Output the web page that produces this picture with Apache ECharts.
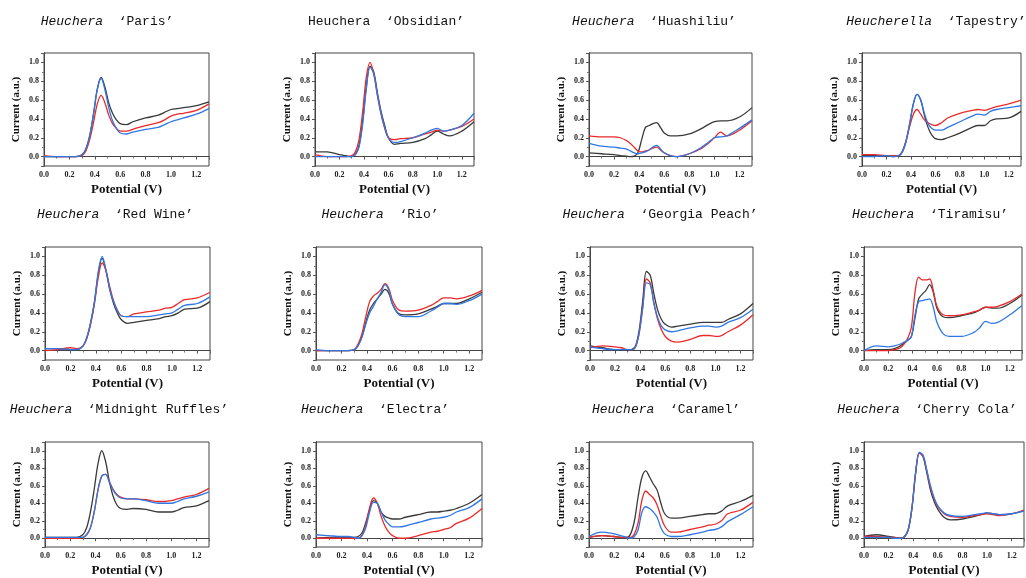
<!DOCTYPE html>
<html>
<head>
<meta charset="utf-8">
<script src="https://cdn.jsdelivr.net/npm/echarts@6/dist/echarts.min.js"></script>
<style>
  html, body { margin: 0; padding: 0; background: #fff; }
  #chart { width: 1026px; height: 578px; }
</style>
</head>
<body>
<div id="chart"></div>
<script>
// potential axis (V), shared by every curve
const potential = [0, 0.1, 0.2, 0.25, 0.3, 0.33, 0.36, 0.39, 0.42, 0.45, 0.48, 0.51, 0.54, 0.57, 0.6, 0.65, 0.7, 0.8, 0.9, 0.95, 1.0, 1.05, 1.1, 1.2, 1.3];

// normalised current, black / red / blue curves of each cultivar
const parisK = [0,0,0,0,0.02,0.08,0.22,0.45,0.72,0.84,0.74,0.57,0.46,0.39,0.35,0.34,0.37,0.41,0.44,0.47,0.50,0.51,0.52,0.54,0.58];
const parisR = [0.01,0,0,0,0.01,0.06,0.18,0.36,0.56,0.65,0.57,0.44,0.35,0.30,0.27,0.27,0.29,0.33,0.36,0.39,0.43,0.45,0.46,0.49,0.56];
const parisB = [0,0,0,0,0.02,0.08,0.22,0.45,0.71,0.83,0.71,0.52,0.38,0.30,0.25,0.24,0.26,0.29,0.31,0.34,0.37,0.39,0.41,0.45,0.51];

const obsidianK = [0.05,0.05,0.02,0.01,0,0.02,0.12,0.38,0.75,0.96,0.90,0.68,0.48,0.33,0.20,0.13,0.14,0.15,0.19,0.23,0.27,0.24,0.22,0.27,0.37];
const obsidianR = [0.02,0,0,0,0.01,0.05,0.18,0.48,0.85,1.0,0.88,0.65,0.45,0.30,0.20,0.18,0.19,0.20,0.24,0.26,0.28,0.27,0.28,0.32,0.40];
const obsidianB = [0,0,0,0,0,0.02,0.10,0.35,0.72,0.95,0.88,0.66,0.46,0.31,0.20,0.15,0.16,0.20,0.25,0.28,0.30,0.27,0.28,0.33,0.46];

const huashiliuK = [0.04,0.03,0.02,0.01,0.005,0,0.005,0.04,0.18,0.31,0.33,0.35,0.36,0.31,0.25,0.22,0.22,0.24,0.30,0.34,0.37,0.38,0.38,0.42,0.52];
const huashiliuR = [0.22,0.21,0.21,0.20,0.17,0.14,0.10,0.06,0.05,0.06,0.07,0.09,0.10,0.07,0.04,0.01,0,0.03,0.09,0.14,0.20,0.26,0.22,0.28,0.38];
const huashiliuB = [0.14,0.11,0.10,0.09,0.08,0.06,0.04,0.03,0.04,0.05,0.07,0.10,0.12,0.08,0.04,0.01,0,0.03,0.10,0.15,0.20,0.21,0.22,0.30,0.39];

const tapestryK = [0.01,0.01,0.01,0,0.01,0.05,0.16,0.35,0.56,0.66,0.60,0.44,0.31,0.23,0.19,0.18,0.20,0.25,0.31,0.33,0.33,0.38,0.40,0.41,0.48];
const tapestryR = [0.02,0.02,0.01,0.01,0.01,0.06,0.17,0.32,0.45,0.50,0.45,0.39,0.36,0.34,0.33,0.36,0.41,0.46,0.49,0.50,0.49,0.51,0.53,0.56,0.60];
const tapestryB = [0,0,0.01,0,0.01,0.05,0.16,0.35,0.56,0.66,0.60,0.46,0.35,0.30,0.28,0.28,0.31,0.37,0.43,0.45,0.44,0.48,0.50,0.52,0.54];

const redWineK = [0.02,0.02,0.01,0.01,0.05,0.14,0.30,0.52,0.82,0.98,0.85,0.65,0.50,0.40,0.33,0.29,0.30,0.32,0.34,0.36,0.37,0.40,0.44,0.45,0.52];
const redWineR = [0,0.01,0.03,0.02,0.05,0.13,0.28,0.50,0.78,0.93,0.85,0.68,0.53,0.43,0.37,0.36,0.39,0.41,0.43,0.45,0.46,0.50,0.54,0.56,0.62];
const redWineB = [0.02,0.02,0.01,0.01,0.05,0.14,0.30,0.52,0.84,1.0,0.86,0.65,0.52,0.42,0.37,0.36,0.36,0.36,0.38,0.39,0.40,0.44,0.48,0.50,0.57];

const rioK = [0,0,0,0,0.01,0.06,0.15,0.30,0.43,0.50,0.55,0.60,0.65,0.61,0.49,0.39,0.38,0.39,0.44,0.47,0.50,0.50,0.50,0.55,0.62];
const rioR = [0,0,0,0,0.01,0.07,0.18,0.36,0.52,0.58,0.61,0.65,0.71,0.66,0.53,0.43,0.42,0.43,0.48,0.52,0.56,0.56,0.55,0.58,0.64];
const rioB = [0.01,0,0,0,0.01,0.05,0.14,0.28,0.40,0.47,0.55,0.62,0.70,0.64,0.49,0.38,0.36,0.36,0.42,0.46,0.50,0.50,0.49,0.53,0.60];

const peachK = [0.05,0.03,0.01,0.01,0,0.01,0.04,0.20,0.52,0.84,0.80,0.60,0.43,0.33,0.28,0.25,0.26,0.28,0.30,0.30,0.30,0.30,0.33,0.39,0.50];
const peachR = [0.03,0.05,0.04,0.03,0.01,0.01,0.03,0.17,0.45,0.76,0.72,0.50,0.33,0.22,0.15,0.10,0.09,0.12,0.16,0.16,0.15,0.16,0.20,0.27,0.38];
const peachB = [0.04,0.02,0.01,0.01,0.01,0.01,0.03,0.17,0.45,0.72,0.70,0.50,0.35,0.26,0.22,0.20,0.21,0.24,0.26,0.26,0.25,0.26,0.30,0.35,0.44];

const tiramisuK = [0,0.01,0.01,0.02,0.05,0.08,0.11,0.15,0.35,0.55,0.60,0.64,0.70,0.62,0.45,0.36,0.35,0.37,0.40,0.43,0.46,0.45,0.45,0.50,0.59];
const tiramisuR = [0,0,0,0.01,0.03,0.07,0.13,0.25,0.62,0.78,0.75,0.75,0.76,0.64,0.47,0.38,0.37,0.38,0.41,0.43,0.46,0.46,0.47,0.52,0.60];
const tiramisuB = [0,0.05,0.04,0.05,0.07,0.09,0.11,0.15,0.38,0.52,0.53,0.54,0.55,0.46,0.30,0.18,0.15,0.15,0.19,0.24,0.31,0.29,0.30,0.38,0.48];

const ruffleK = [0.01,0.01,0.01,0.01,0.04,0.12,0.30,0.56,0.85,1.0,0.88,0.65,0.48,0.38,0.34,0.33,0.34,0.33,0.30,0.30,0.30,0.32,0.35,0.37,0.43];
const ruffleR = [0,0,0,0,0.01,0.04,0.12,0.30,0.55,0.71,0.73,0.65,0.56,0.50,0.47,0.45,0.45,0.44,0.42,0.42,0.43,0.45,0.47,0.50,0.57];
const ruffleB = [0.01,0.01,0.01,0.01,0.01,0.04,0.12,0.30,0.55,0.71,0.73,0.64,0.55,0.49,0.46,0.45,0.45,0.43,0.40,0.40,0.40,0.42,0.45,0.48,0.53];

const electraK = [0,0.01,0.01,0.01,0.01,0.02,0.06,0.18,0.33,0.43,0.40,0.30,0.25,0.23,0.22,0.22,0.24,0.27,0.30,0.30,0.31,0.32,0.34,0.40,0.50];
const electraR = [0,0,0,0,0,0,0.03,0.15,0.35,0.46,0.40,0.25,0.14,0.07,0.03,0,0,0.03,0.07,0.08,0.10,0.12,0.17,0.23,0.34];
const electraB = [0.04,0.03,0.02,0.02,0.01,0,0.03,0.12,0.30,0.41,0.40,0.30,0.21,0.16,0.13,0.13,0.14,0.18,0.22,0.23,0.24,0.26,0.30,0.35,0.45];

const caramelK = [0.01,0.03,0.02,0.01,0.01,0.05,0.20,0.48,0.70,0.77,0.70,0.62,0.55,0.40,0.28,0.23,0.23,0.25,0.27,0.28,0.28,0.31,0.37,0.42,0.49];
const caramelR = [0.01,0.03,0.02,0.01,0.01,0.01,0.05,0.18,0.44,0.54,0.50,0.46,0.38,0.25,0.14,0.07,0.07,0.10,0.13,0.15,0.16,0.20,0.28,0.32,0.41];
const caramelB = [0.02,0.07,0.05,0.03,0.01,0,0.02,0.10,0.30,0.36,0.34,0.30,0.24,0.12,0.05,0.02,0.02,0.04,0.07,0.09,0.10,0.13,0.19,0.27,0.36];

const colaK = [0.02,0.04,0.02,0.01,0,0.02,0.10,0.35,0.75,0.98,0.93,0.75,0.55,0.42,0.33,0.24,0.21,0.22,0.25,0.27,0.29,0.28,0.27,0.28,0.32];
const colaR = [0.02,0.02,0.01,0.01,0,0.02,0.10,0.35,0.75,0.97,0.94,0.77,0.58,0.45,0.36,0.28,0.25,0.24,0.26,0.27,0.28,0.27,0.26,0.28,0.32];
const colaB = [0.01,0.01,0.01,0,0,0.02,0.10,0.35,0.76,0.98,0.95,0.78,0.60,0.46,0.37,0.29,0.26,0.25,0.27,0.28,0.29,0.28,0.27,0.28,0.31];

const genus = ['Heuchera', 'Heuchera', 'Heuchera', 'Heucherella', 'Heuchera', 'Heuchera', 'Heuchera', 'Heuchera', 'Heuchera', 'Heuchera', 'Heuchera', 'Heuchera'];
const cultivar = ['Paris', 'Obsidian', 'Huashiliu', 'Tapestry', 'Red Wine', 'Rio', 'Georgia Peach', 'Tiramisu', 'Midnight Ruffles', 'Electra', 'Caramel', 'Cherry Cola'];
const curves = [
  [parisK, parisR, parisB], [obsidianK, obsidianR, obsidianB], [huashiliuK, huashiliuR, huashiliuB], [tapestryK, tapestryR, tapestryB],
  [redWineK, redWineR, redWineB], [rioK, rioR, rioB], [peachK, peachR, peachB], [tiramisuK, tiramisuR, tiramisuB],
  [ruffleK, ruffleR, ruffleB], [electraK, electraR, electraB], [caramelK, caramelR, caramelB], [colaK, colaR, colaB]
];

// layout: plot boxes [left, top, width, height] and title centres
const boxes = [
  [44, 53, 165, 113], [315, 53, 159, 113], [589, 53, 163, 113], [862, 53, 159, 113],
  [45, 247, 165, 113], [316, 247, 166, 113], [590, 247, 163, 113], [864, 247, 158, 113],
  [45, 442, 164, 111], [316, 442, 166, 111], [589, 442, 164, 111], [864, 442, 160, 111]
];
const titlePos = [[107, 22], [386, 22], [654, 22], [936, 22], [115, 215], [380, 215], [660, 215], [930, 215], [119, 410], [375, 410], [666, 410], [927, 410]];
const plainTitle = [false, true, false, false, false, false, false, false, false, false, false, false];
const lineColors = ['#3a3a3a', '#ea2a2a', '#2f78e4'];

const serif = 'Liberation Serif';
const mono = 'Liberation Mono';

const chart = echarts.init(document.getElementById('chart'), null, { renderer: 'canvas' });

const option = {
  backgroundColor: '#fff',
  animation: false,
  grid: [], xAxis: [], yAxis: [], series: [], graphic: []
};

boxes.forEach((b, i) => {
  option.grid.push({ left: b[0], top: b[1], width: b[2], height: b[3], show: true, borderColor: '#444', borderWidth: 1, containLabel: false });

  // left / bottom: short outward ticks; top / right: inward mirror ticks
  const outTick = { show: true, inside: false, length: 2, lineStyle: { color: '#555' } };
  const inTick = { show: true, inside: true, length: 3, lineStyle: { color: '#555' } };
  const minor = { show: true, splitNumber: 2, length: 2, lineStyle: { color: '#777' } };
  const label = { fontFamily: serif, fontWeight: 'bold', fontSize: 8, color: '#222' };

  option.xAxis.push({
    type: 'value', gridIndex: i, min: 0, max: 1.3, interval: 0.2,
    name: 'Potential (V)', nameLocation: 'middle', nameGap: 17,
    nameTextStyle: { fontFamily: serif, fontWeight: 'bold', fontSize: 13, color: '#111' },
    axisLine: { show: true, lineStyle: { color: '#444' } },
    axisTick: outTick, splitLine: { show: false },
    axisLabel: Object.assign({ margin: 5, showMaxLabel: false, formatter: v => v.toFixed(1) }, label)
  });
  option.xAxis.push({
    type: 'value', gridIndex: i, position: 'top', min: 0, max: 1.3, interval: 0.2,
    axisLine: { show: true, lineStyle: { color: '#444' } },
    axisTick: inTick, minorTick: minor, splitLine: { show: false }, axisLabel: { show: false }
  });
  option.yAxis.push({
    type: 'value', gridIndex: i, min: -0.1, max: 1.1, splitNumber: 6,
    name: 'Current (a.u.)', nameLocation: 'middle', nameGap: 22, nameRotate: 90,
    nameTextStyle: { fontFamily: serif, fontWeight: 'bold', fontSize: 11, color: '#111' },
    axisLine: { show: true, lineStyle: { color: '#444' } },
    axisTick: outTick, splitLine: { show: false },
    axisLabel: Object.assign({ margin: 5, showMinLabel: false, showMaxLabel: false, formatter: v => Math.abs(v).toFixed(1) }, label)
  });
  option.yAxis.push({
    type: 'value', gridIndex: i, position: 'right', min: -0.1, max: 1.1, splitNumber: 6,
    axisLine: { show: true, lineStyle: { color: '#444' } },
    axisTick: inTick, minorTick: minor, splitLine: { show: false }, axisLabel: { show: false }
  });

  curves[i].forEach((ys, k) => {
    option.series.push({
      type: 'line', xAxisIndex: 2 * i, yAxisIndex: 2 * i,
      data: potential.map((x, j) => [x, ys[j]]),
      smooth: 0.35, showSymbol: false, silent: true,
      lineStyle: { color: lineColors[k], width: 1.3 },
      itemStyle: { color: lineColors[k] }
    });
  });

  const text = plainTitle[i]
    ? '{n|' + genus[i] + '  ‘' + cultivar[i] + '’}'
    : '{i|' + genus[i] + '}{n|  ‘' + cultivar[i] + '’}';
  option.graphic.push({
    type: 'text', x: titlePos[i][0], y: titlePos[i][1], silent: true,
    style: {
      text: text, align: 'center', verticalAlign: 'middle',
      textAlign: 'center', textVerticalAlign: 'middle',
      fill: '#111', font: '13px ' + mono,
      rich: {
        i: { fontFamily: mono, fontStyle: 'italic', fontSize: 13, fill: '#111' },
        n: { fontFamily: mono, fontSize: 13, fill: '#111' }
      }
    }
  });
});

chart.setOption(option);
</script>
</body>
</html>
